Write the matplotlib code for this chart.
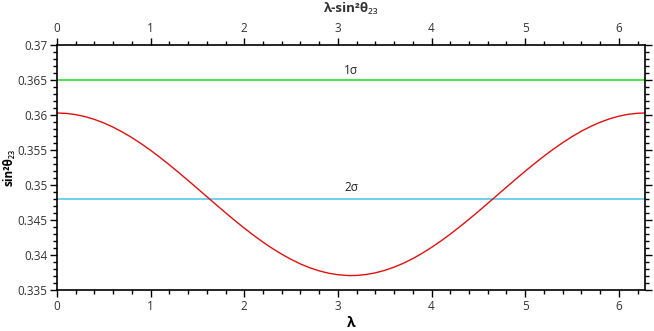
import matplotlib
matplotlib.use("Agg")
import matplotlib.pyplot as plt
from matplotlib.ticker import MultipleLocator
import numpy as np

plt.rcParams['font.family'] = ['Open Sans', 'Noto Sans', 'DejaVu Sans']

# Data
lam = [0.0, 0.1, 0.2, 0.3, 0.4, 0.5, 0.6, 0.7, 0.8, 0.9, 1.0, 1.1, 1.2, 1.3,
       1.4, 1.5, 1.6, 1.7, 1.8, 1.9, 2.0, 2.1, 2.2, 2.3, 2.4, 2.5, 2.6, 2.7,
       2.8, 2.9, 3.0, 3.1, 3.1416, 3.2, 3.3, 3.4, 3.5, 3.6, 3.7, 3.8, 3.9,
       4.0, 4.1, 4.2, 4.3, 4.4, 4.5, 4.6, 4.7, 4.8, 4.9, 5.0, 5.1, 5.2, 5.3,
       5.4, 5.5, 5.6, 5.7, 5.8, 5.9, 6.0, 6.1, 6.2, 6.2832]
s23 = [0.36030, 0.36024, 0.36007, 0.35978, 0.35938, 0.35888, 0.35827,
       0.35757, 0.35678, 0.35591, 0.35497, 0.35396, 0.35290, 0.35180,
       0.35067, 0.34952, 0.34836, 0.34721, 0.34606, 0.34495, 0.34387,
       0.34284, 0.34187, 0.34097, 0.34015, 0.33941, 0.33876, 0.33821,
       0.33777, 0.33744, 0.33722, 0.33711, 0.33710, 0.33712, 0.33725,
       0.33749, 0.33784, 0.33830, 0.33886, 0.33952, 0.34028, 0.34112,
       0.34203, 0.34301, 0.34405, 0.34513, 0.34625, 0.34740, 0.34856,
       0.34971, 0.35086, 0.35199, 0.35308, 0.35413, 0.35513, 0.35606,
       0.35692, 0.35770, 0.35838, 0.35897, 0.35946, 0.35984, 0.36011,
       0.36026, 0.36030]
sigma_levels = [0.365, 0.348]
sigma_labels = ['1σ', '2σ']
sigma_label_y = [0.3664, 0.3496]
sigma_colors = ['#22e022', '#5bc8ee']
ytick_labels = ['0.335', '0.34', '0.345', '0.35', '0.355', '0.36', '0.365', '0.37']

fig = plt.figure(figsize=(6.54, 3.31), dpi=100)
ax = fig.add_axes([0.0872, 0.123, 0.8995, 0.741])

for lvl, col in zip(sigma_levels, sigma_colors):
    ax.axhline(lvl, color=col, lw=1.2)
for lab, ly in zip(sigma_labels, sigma_label_y):
    ax.text(np.pi, ly, lab, ha='center', va='center', fontsize=8.5, color='#222222')

ax.plot(lam, s23, color='#e01010', lw=1.0)

ax.set_xlim(0, 2 * np.pi)
ax.set_ylim(0.335, 0.37)
ax.xaxis.set_major_locator(MultipleLocator(1))
ax.xaxis.set_minor_locator(MultipleLocator(0.2))
ax.yaxis.set_minor_locator(MultipleLocator(0.001))
ax.set_yticks(np.linspace(0.335, 0.37, len(ytick_labels)))
ax.set_yticklabels(ytick_labels)

ax.tick_params(which='both', direction='out', top=True, right=True,
               labeltop=True, labelright=False, labelsize=8.5, labelcolor='#333333',
               width=1.0, pad=2)
ax.tick_params(which='major', length=5)
ax.tick_params(which='minor', length=3)
for sp in ax.spines.values():
    sp.set_linewidth(1.2)

ax.set_xlabel('λ', fontsize=10, fontweight='bold', labelpad=2.5)
ax.set_ylabel('sin²θ₂₃', fontsize=8.5, fontweight='bold', labelpad=1)
fig.text(0.5 * (0.0872 + 0.9867), 0.975, 'λ-sin²θ₂₃', ha='center', va='center',
         fontsize=9.5, fontweight='bold', color='#333333')

fig.savefig('out.png', dpi=100)
